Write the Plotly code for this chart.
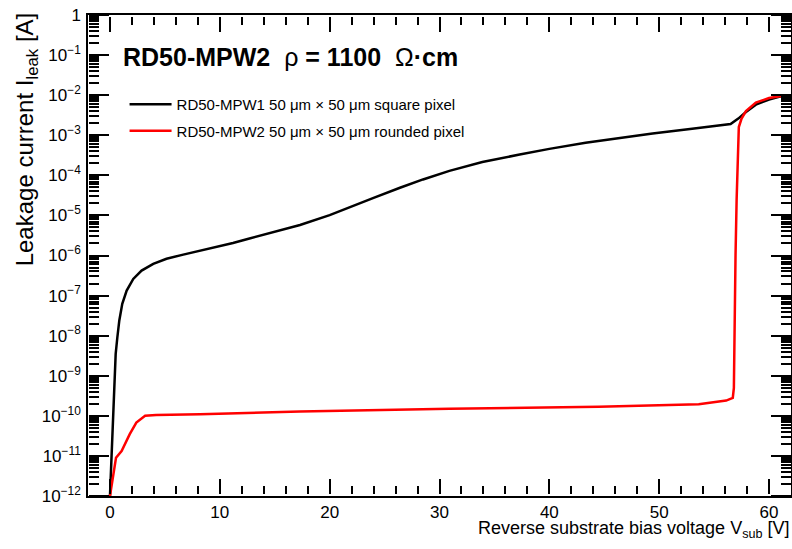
import plotly.graph_objects as go

# ---------------- data ----------------
v_mpw1 = [0, 0.15, 0.3, 0.45, 0.52, 0.67, 0.85, 1.12, 1.52, 2.12, 2.88, 3.94,
          5.15, 6.67, 8.18, 9.7, 11.2, 12.7, 15.0, 17.3, 20.0, 22.0, 24.0, 26.4,
          28.5, 30.9, 33.9, 37.3, 40.0, 43.3, 46.5, 49.4, 53.0, 56.5, 57.2, 57.9,
          58.8, 60.0, 61.0, 62.0]
i_mpw1 = [1e-12, 1e-11, 1e-10, 1e-9, 3.5e-9, 9e-9, 2.4e-8, 6.2e-8, 1.33e-7, 2.6e-7,
          4.2e-7, 6.2e-7, 8.3e-7, 1.05e-6, 1.3e-6, 1.62e-6, 2.05e-6, 2.65e-6, 3.9e-6,
          5.75e-6, 1.02e-5, 1.7e-5, 2.75e-5, 4.9e-5, 7.9e-5, 1.29e-4, 2.14e-4, 3.31e-4,
          4.57e-4, 6.46e-4, 8.7e-4, 1.1e-3, 1.45e-3, 1.9e-3, 2.6e-3, 3.8e-3, 5.8e-3,
          7.8e-3, 9.2e-3, 9.6e-3]

v_mpw2 = [0, 0.3, 0.55, 1.06, 1.8, 2.4, 3.2, 4.2, 8.2, 17.3, 30.9, 44.5, 53.6,
          56.1, 56.7, 56.8, 56.85, 56.95, 57.05, 57.15, 57.25, 57.5, 57.9, 58.8,
          60.0, 61.0, 62.0]
i_mpw2 = [1e-12, 3.5e-12, 9e-12, 1.33e-11, 3.5e-11, 6.8e-11, 1.0e-10, 1.05e-10,
          1.1e-10, 1.28e-10, 1.5e-10, 1.68e-10, 1.95e-10, 2.4e-10, 2.8e-10, 5e-10,
          1e-8, 1e-6, 2.5e-5, 5e-4, 1.6e-3, 2.6e-3, 4.0e-3, 6.5e-3, 8.5e-3, 9.4e-3,
          9.6e-3]

name_mpw1 = "RD50-MPW1 50 μm × 50 μm square pixel"
name_mpw2 = "RD50-MPW2 50 μm × 50 μm rounded pixel"

x_range = [-2, 62]
y_log_range = [-12, 0]
x_major = [0, 10, 20, 30, 40, 50, 60]
x_minor = [v for v in range(0, 62, 2) if v % 10 != 0]
y_exponents = list(range(0, -13, -1))
y_tickvals = [10.0 ** e for e in y_exponents]
y_ticktext = ["1" if e == 0 else "10<sup>−%d</sup>" % (-e) for e in y_exponents]

FONT = "Liberation Sans, Arial, sans-serif"

fig = go.Figure()
fig.add_trace(go.Scatter(x=v_mpw1, y=i_mpw1, mode="lines", name=name_mpw1,
                         line=dict(color="#000000", width=2.5),
                         legendgroup="a"))
fig.add_trace(go.Scatter(x=v_mpw2, y=i_mpw2, mode="lines", name=name_mpw2,
                         line=dict(color="#ff0000", width=2.5), legendgroup="b"))
# empty traces that register the tick-only helper axes
for xa, ya in [("x6", "y2"), ("x7", "y3"),
               ("x2", "y4"), ("x4", "y4"), ("x3", "y5"), ("x5", "y5")]:
    fig.add_trace(go.Scatter(x=[], y=[], xaxis=xa, yaxis=ya, showlegend=False,
                             hoverinfo="skip"))

fig.update_layout(
    template="none",
    width=792, height=549,
    margin=dict(l=88, r=1, t=15, b=53),
    paper_bgcolor="white", plot_bgcolor="rgba(0,0,0,0)",
    font=dict(family=FONT, color="black"),
    showlegend=True,
    legend=dict(x=0.052, y=0.848, xanchor="left", yanchor="top",
                font=dict(size=15, family=FONT), bgcolor="rgba(0,0,0,0)",
                tracegroupgap=4, itemwidth=42),
)

tick_common = dict(showgrid=False, zeroline=False, showline=False,
                   showticklabels=False, ticks="outside", tickwidth=1.5,
                   tickcolor="black")
hidden_axis = dict(showgrid=False, zeroline=False, showline=False,
                   showticklabels=False, ticks="", range=[0, 1])

fig.update_layout(
    # main axes: frame + labels
    xaxis=dict(range=x_range, showgrid=False, zeroline=False,
               showline=True, linecolor="black", linewidth=1.5, mirror=True,
               ticks="", tickmode="array", tickvals=x_major,
               tickfont=dict(size=17, family=FONT)),
    yaxis=dict(type="log", range=y_log_range, showgrid=False, zeroline=False,
               showline=True, linecolor="black", linewidth=1.5, mirror=True,
               ticks="", tickmode="array", tickvals=y_tickvals, ticktext=y_ticktext,
               tickfont=dict(size=17, family=FONT), ticklabelstandoff=2),
    # thin helper bands at the bottom and top edges of the frame
    yaxis4=dict(domain=[0, 0.002], anchor="x2", **hidden_axis),
    yaxis5=dict(domain=[0.998, 1], anchor="x3", **hidden_axis),
    # bottom edge: ticks pointing up into the frame
    xaxis2=dict(domain=[0, 1], anchor="y4", side="top", range=x_range,
                tickmode="array", tickvals=x_major, ticklen=15, **tick_common),
    xaxis4=dict(domain=[0, 1], anchor="y4", side="top", range=x_range,
                tickmode="array", tickvals=x_minor, ticklen=8, **tick_common),
    # top edge: ticks pointing down into the frame
    xaxis3=dict(domain=[0, 1], anchor="y5", side="bottom", range=x_range,
                tickmode="array", tickvals=x_major, ticklen=15, **tick_common),
    xaxis5=dict(domain=[0, 1], anchor="y5", side="bottom", range=x_range,
                tickmode="array", tickvals=x_minor, ticklen=8, **tick_common),
    # hidden x axes pairing with the y tick axes
    xaxis6=dict(overlaying="x", range=x_range, visible=False),
    xaxis7=dict(overlaying="x", range=x_range, visible=False),
    # left edge, ticks pointing right into the frame
    yaxis2=dict(overlaying="y", anchor="free", position=0, side="right",
                type="log", range=y_log_range, tickmode="array",
                tickvals=y_tickvals, ticklen=20,
                minor=dict(ticks="outside", dtick="D1", ticklen=10,
                           tickwidth=1.5, tickcolor="black", showgrid=False),
                **tick_common),
    # right edge, ticks pointing left
    yaxis3=dict(overlaying="y", anchor="free", position=1, side="left",
                type="log", range=y_log_range, tickmode="array",
                tickvals=y_tickvals, ticklen=20,
                minor=dict(ticks="outside", dtick="D1", ticklen=10,
                           tickwidth=1.5, tickcolor="black", showgrid=False),
                **tick_common),
)

# axis titles (ROOT style, right/top aligned)
fig.add_annotation(text="Reverse substrate bias voltage V<sub>sub</sub> [V]",
                   xref="paper", yref="paper", x=1.0, y=-0.042,
                   xanchor="right", yanchor="top", showarrow=False,
                   font=dict(size=18, family=FONT))
fig.add_annotation(text="Leakage current I<sub>leak</sub> [A]",
                   xref="paper", yref="paper", x=-0.088, y=1.01,
                   xanchor="center", yanchor="top", textangle=-90, showarrow=False,
                   font=dict(size=24, family=FONT))
# header text
fig.add_annotation(text="<b>RD50-MPW2</b>  ρ <b>= 1100</b>  Ω<b>·cm</b>",
                   xref="paper", yref="paper", x=0.047, y=0.913,
                   xanchor="left", yanchor="middle", showarrow=False,
                   font=dict(size=25, family=FONT))

fig.write_html("out.html")
